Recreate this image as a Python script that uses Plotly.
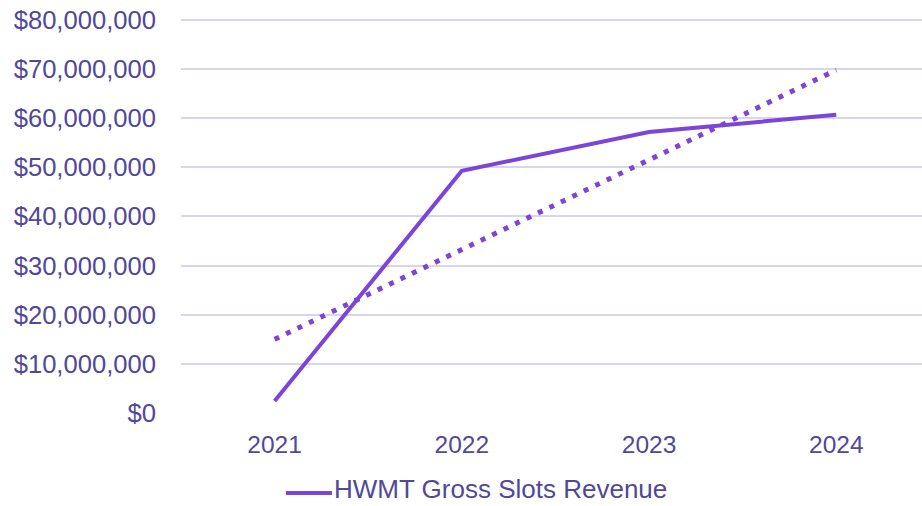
import plotly.graph_objects as go

years = ["2021", "2022", "2023", "2024"]
revenue = [2.45e6, 49.3e6, 57.2e6, 60.7e6]
trend_years = ["2021", "2024"]
trend_values = [15.0e6, 69.8e6]
y_ticks = [0, 10e6, 20e6, 30e6, 40e6, 50e6, 60e6, 70e6, 80e6]
y_labels = ["$0", "$10,000,000", "$20,000,000", "$30,000,000", "$40,000,000",
            "$50,000,000", "$60,000,000", "$70,000,000", "$80,000,000"]
series_name = "HWMT Gross Slots Revenue"

line_color = "#7B45D9"
text_color = "#50489A"
grid_color = "#D9D5EC"
font_family = "Arial, Liberation Sans, sans-serif"

# plot area in pixels (for placing the legend key)
L, T, B, W, H = 181, 17, 93, 922, 506
plot_w, plot_h = W - L, H - T - B
def px_x(p):
    return (p - L) / plot_w
def px_y(p):
    return (H - B - p) / plot_h

fig = go.Figure()
fig.add_trace(go.Scatter(
    x=trend_years, y=trend_values, mode="lines",
    line=dict(color=line_color, width=5, dash="5px,7.7px"),
    showlegend=False, hoverinfo="skip"))
fig.add_trace(go.Scatter(
    x=years, y=revenue, mode="lines", name=series_name,
    line=dict(color=line_color, width=4), showlegend=False))

# legend key drawn as a shape + text
fig.add_shape(type="line", xref="paper", yref="paper",
              x0=px_x(286), x1=px_x(332), y0=px_y(493), y1=px_y(493),
              line=dict(color=line_color, width=4))
fig.add_annotation(text=series_name, xref="paper", yref="paper",
                   x=px_x(333), y=px_y(505), xanchor="left", yanchor="bottom",
                   borderpad=0,
                   showarrow=False, font=dict(size=26, color=text_color))

fig.update_layout(
    width=W, height=H,
    margin=dict(l=L, r=0, t=T, b=B, autoexpand=False),
    paper_bgcolor="white", plot_bgcolor="white",
    font=dict(family=font_family, size=24, color=text_color),
    showlegend=False,
    xaxis=dict(type="category", categoryorder="array", categoryarray=years,
               range=[-0.5, 3.458], showgrid=False, zeroline=False, showline=False,
               ticks="", ticklabelstandoff=14, automargin=False,
               tickfont=dict(size=24.5)),
    yaxis=dict(range=[0, 80.6e6], tickvals=y_ticks, ticktext=y_labels,
               showgrid=True, gridcolor=grid_color, gridwidth=1.5, zeroline=False,
               showline=False, ticks="", ticklabelstandoff=24, automargin=False,
               tickfont=dict(size=25.6)),
)

fig.write_html("out.html", config={"displayModeBar": False},
               post_script="document.body.style.margin='0';")
